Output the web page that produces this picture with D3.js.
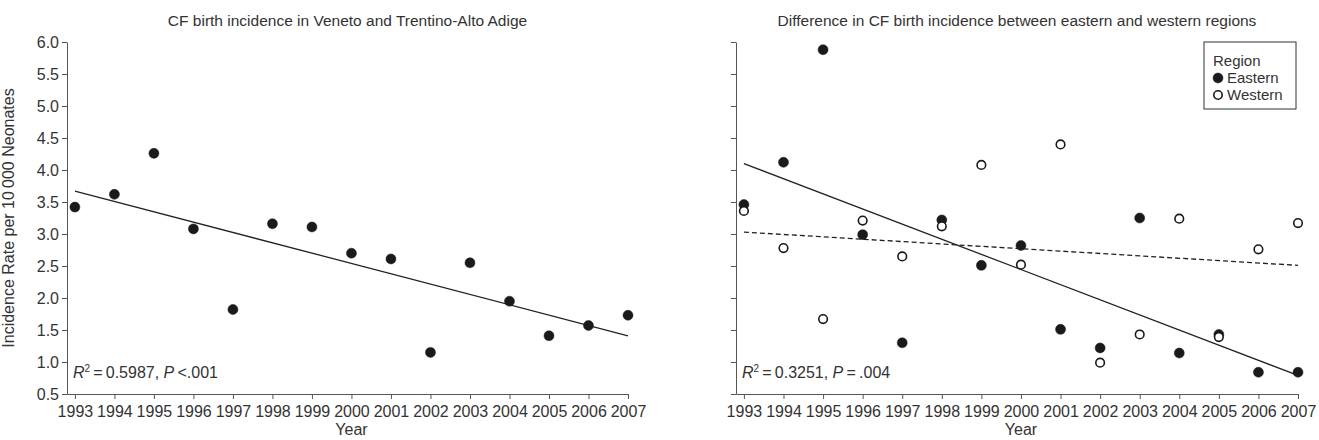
<html>
<head>
  <meta charset="utf-8">
  <title>CF birth incidence</title>
  <style>
    body { margin: 0; background: #fff; overflow: hidden; }
    text { font-family: "Liberation Sans", Arial, sans-serif; fill: #333; }
    .axis path, .axis line { stroke: #555; }
    .axis text { font-size: 16px; fill: #333; }
  </style>
  <script src="https://d3js.org/d3.v7.min.js"></script>
</head>
<body>
<div id="chart"></div>
<script>
// Years on the x axis
var years = [1993, 1994, 1995, 1996, 1997, 1998, 1999, 2000, 2001, 2002, 2003, 2004, 2005, 2006, 2007];
var yTicks = [0.5, 1.0, 1.5, 2.0, 2.5, 3.0, 3.5, 4.0, 4.5, 5.0, 5.5, 6.0];

// Left panel: Veneto and Trentino-Alto Adige
var total = [3.42, 3.62, 4.26, 3.08, 1.82, 3.16, 3.11, 2.70, 2.61, 1.15, 2.55, 1.95, 1.41, 1.57, 1.73];
var totalTrend = [3.67, 1.41];   // fitted values at 1993 and 2007

// Right panel: eastern vs western regions
var eastern = [3.46, 4.12, 5.88, 2.99, 1.30, 3.22, 2.51, 2.82, 1.51, 1.22, 3.25, 1.14, 1.43, 0.84, 0.84];
var western = [3.36, 2.78, 1.67, 3.21, 2.65, 3.12, 4.08, 2.52, 4.40, 0.99, 1.43, 3.24, 1.39, 2.76, 3.17];
var easternTrend = [4.10, 0.79];
var westernTrend = [3.03, 2.51];

var W = 1319, H = 440;
var svg = d3.select("#chart").append("svg")
    .attr("width", W)
    .attr("height", H)
    .style("display", "block");

var y = d3.scaleLinear().domain([0.5, 6.0]).range([394, 42]);

function panel(x0, x1, title, showYLabels, annotation) {
  // domain starts a bit before 1993 so the y axis sits left of the first tick
  var x = d3.scaleLinear().domain([1992.8, 2007]).range([x0, x1]);
  var g = svg.append("g");

  g.append("g")
      .attr("class", "axis")
      .attr("transform", "translate(0," + y.range()[0] + ")")
      .call(d3.axisBottom(x).tickValues(years).tickFormat(d3.format("d"))
            .tickSize(5).tickSizeOuter(0).tickPadding(7));

  g.append("g")
      .attr("class", "axis")
      .attr("transform", "translate(" + x0 + ",0)")
      .call(d3.axisLeft(y).tickValues(yTicks)
            .tickFormat(showYLabels ? d3.format(".1f") : "")
            .tickSize(5).tickSizeOuter(0).tickPadding(3));

  g.append("text")
      .attr("x", (x0 + x1) / 2)
      .attr("y", 26)
      .attr("text-anchor", "middle")
      .style("font-size", "15.5px")
      .text(title);

  g.append("text")
      .attr("x", (x(1993) + x1) / 2)
      .attr("y", 435)
      .attr("text-anchor", "middle")
      .style("font-size", "16px")
      .text("Year");

  var ann = g.append("text")
      .attr("x", x(1993) - 2)
      .attr("y", 378)
      .style("font-size", "16px");
  ann.append("tspan").style("font-style", "italic").text("R");
  ann.append("tspan").attr("dy", -6).style("font-size", "10px").text("2");
  ann.append("tspan").attr("dy", 6).text("\u2009=\u20090." + annotation[0] + ", ");
  ann.append("tspan").style("font-style", "italic").text("P");
  ann.append("tspan").text(annotation[1]);

  return { g: g, x: x };
}

function trend(p, vals, dashed) {
  p.g.append("line")
      .attr("x1", p.x(years[0]))
      .attr("y1", y(vals[0]))
      .attr("x2", p.x(years[years.length - 1]))
      .attr("y2", y(vals[1]))
      .attr("stroke", "#222")
      .attr("stroke-width", 1.3)
      .attr("stroke-dasharray", dashed ? "5,3" : null);
}

function dots(p, vals, filled) {
  p.g.selectAll(null)
      .data(vals)
      .enter().append("circle")
      .attr("cx", function(d, i) { return p.x(years[i]); })
      .attr("cy", function(d) { return y(d); })
      .attr("r", filled ? 5 : 4.3)
      .attr("fill", filled ? "#1a1a1a" : "#fff")
      .attr("stroke", "#1a1a1a")
      .attr("stroke-width", filled ? 0.5 : 1.6);
}

// left panel
var left = panel(67, 628, "CF birth incidence in Veneto and Trentino-Alto Adige", true, ["5987", "\u2009<.001"]);
trend(left, totalTrend, false);
dots(left, total, true);

svg.append("text")
    .attr("transform", "translate(14," + (y(0.5) + y(6.0)) / 2 + ") rotate(-90)")
    .attr("text-anchor", "middle")
    .style("font-size", "16px")
    .text("Incidence Rate per 10\u2009000 Neonates");

// right panel
var right = panel(736, 1298, "Difference in CF birth incidence between eastern and western regions", false, ["3251", "\u2009=\u2009.004"]);
trend(right, easternTrend, false);
trend(right, westernTrend, true);
dots(right, eastern, true);
dots(right, western, false);

// legend
var lg = svg.append("g").attr("transform", "translate(1204,42)");
lg.append("rect")
    .attr("width", 92)
    .attr("height", 67)
    .attr("fill", "#fff")
    .attr("stroke", "#333")
    .attr("stroke-width", 1);
lg.append("text").attr("x", 9).attr("y", 24).style("font-size", "15px").text("Region");
var items = [{ name: "Eastern", filled: true }, { name: "Western", filled: false }];
var li = lg.selectAll(".li")
    .data(items)
    .enter().append("g")
    .attr("transform", function(d, i) { return "translate(0," + (36 + i * 17) + ")"; });
li.append("circle")
    .attr("cx", 14)
    .attr("cy", 0)
    .attr("r", function(d) { return d.filled ? 5 : 4.2; })
    .attr("fill", function(d) { return d.filled ? "#1a1a1a" : "#fff"; })
    .attr("stroke", "#1a1a1a")
    .attr("stroke-width", function(d) { return d.filled ? 0.5 : 1.6; });
li.append("text")
    .attr("x", 23)
    .attr("y", 5)
    .style("font-size", "15px")
    .text(function(d) { return d.name; });
</script>
</body>
</html>
